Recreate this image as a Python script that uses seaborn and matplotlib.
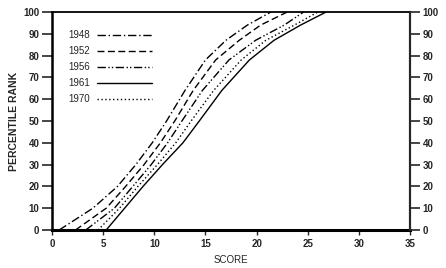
import matplotlib
matplotlib.use("Agg")
import matplotlib.pyplot as plt
import seaborn as sns
import pandas as pd

# Percentile levels (y) and score (x) read for each year's curve
percentile = [0, 10, 20, 30, 40, 50, 64, 78, 87, 94, 100]
score_1948 = [0.7, 4.0, 6.4, 8.2, 9.8, 11.2, 13.0, 15.0, 17.0, 19.1, 21.4]
score_1952 = [2.3, 5.3, 7.2, 9.0, 10.6, 12.0, 13.8, 16.0, 18.3, 20.4, 23.0]
score_1956 = [3.3, 6.1, 7.9, 9.7, 11.3, 12.7, 14.7, 17.3, 19.9, 22.7, 24.6]
score_1961 = [5.3, 7.1, 8.9, 10.8, 12.8, 14.4, 16.6, 19.3, 21.7, 24.3, 26.8]
score_1970 = [4.5, 6.6, 8.4, 10.3, 12.1, 13.6, 15.8, 18.5, 20.9, 23.7, 26.0]
years = ["1948", "1952", "1956", "1961", "1970"]
x_ticks = [0, 5, 10, 15, 20, 25, 30, 35]
y_ticks = [0, 10, 20, 30, 40, 50, 60, 70, 80, 90, 100]

series = {"1948": score_1948, "1952": score_1952, "1956": score_1956,
          "1961": score_1961, "1970": score_1970}
rows = []
for yr in years:
    for s, p in zip(series[yr], percentile):
        rows.append({"year": yr, "score": s, "pct": p})
df = pd.DataFrame(rows)

sns.set_style("ticks")
plt.rcParams["font.family"] = ["Liberation Sans", "DejaVu Sans"]

fig = plt.figure(figsize=(4.46, 2.68), dpi=100)
ax = fig.add_axes([52 / 446, 38 / 268, 358 / 446, 218 / 268])

dashes = {"1948": (6, 2, 1, 2), "1952": (5, 2.5), "1956": (6, 1.8, 1, 1.5, 1, 1.8),
          "1961": "", "1970": (1, 1.8)}
sns.lineplot(data=df, x="score", y="pct", style="year", style_order=years,
             dashes=dashes, color="black", linewidth=1.0, estimator=None,
             sort=False, ax=ax)

ax.set_xlim(0, 35)
ax.set_ylim(0, 100)
ax.set_xticks(x_ticks)
ax.set_yticks(y_ticks)
ax.tick_params(axis="y", direction="out", length=7, width=1.2, labelsize=7, pad=2)
ax.tick_params(axis="x", direction="out", length=3.5, width=1.0, labelsize=7, pad=3)
for lab in ax.get_xticklabels() + ax.get_yticklabels():
    lab.set_fontweight("bold")
for side, w in [("left", 1.8), ("bottom", 2.2), ("top", 1.3), ("right", 1.5)]:
    ax.spines[side].set_visible(True)
    ax.spines[side].set_linewidth(w)
    ax.spines[side].set_color("black")

ax2 = ax.twinx()
ax2.set_ylim(0, 100)
ax2.set_yticks(y_ticks)
ax2.tick_params(axis="y", direction="out", length=7, width=1.2, labelsize=7, pad=2)
for lab in ax2.get_yticklabels():
    lab.set_fontweight("bold")
for side in ["left", "bottom", "top"]:
    ax2.spines[side].set_visible(False)
ax2.spines["right"].set_linewidth(1.5)

ax.set_xlabel("SCORE", fontsize=7, labelpad=4)
ax.set_ylabel("PERCENTILE RANK", fontsize=7.5, fontweight="bold", labelpad=3)

leg = ax.legend(loc="upper left", bbox_to_anchor=(0.045, 0.916), frameon=False,
                markerfirst=False, handlelength=5.7, handletextpad=0.7,
                labelspacing=0.62, fontsize=7, borderpad=0, borderaxespad=0)
for h in leg.get_lines():
    h.set_linewidth(1.0)

fig.savefig("out.png", dpi=100)
